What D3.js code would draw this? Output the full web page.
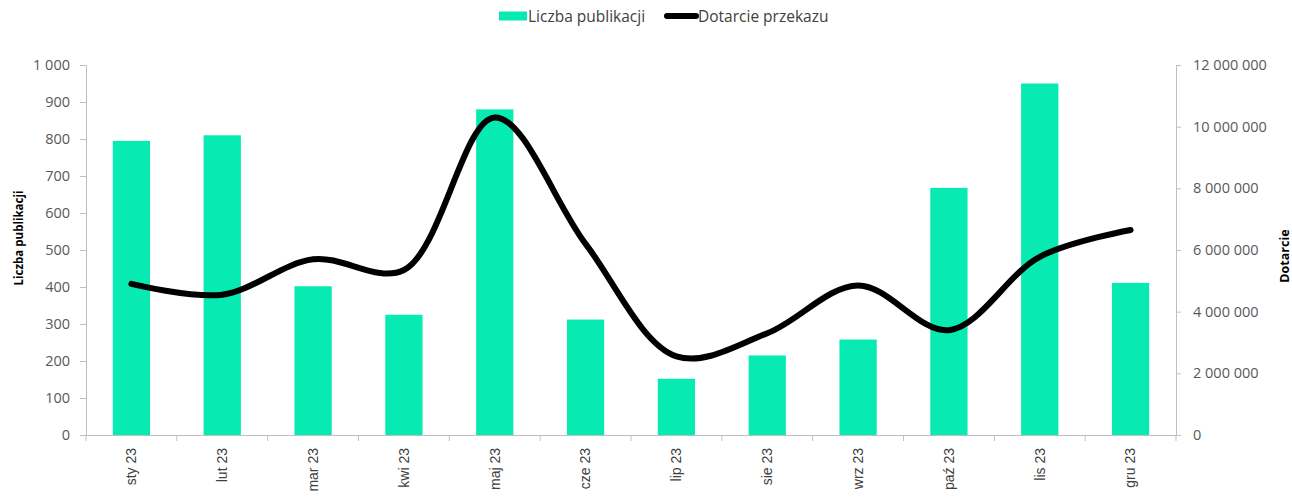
<!DOCTYPE html>
<html>
<head>
<meta charset="utf-8">
<script src="https://cdn.jsdelivr.net/npm/d3@7"></script>
<style>
body { margin: 0; background: #fff; }
svg text { font-family: "Open Sans", "Noto Sans", sans-serif; }
</style>
</head>
<body>
<svg id="chart" width="1292" height="497"></svg>
<script>
// data
var months = ["sty 23","lut 23","mar 23","kwi 23","maj 23","cze 23","lip 23","sie 23","wrz 23","paź 23","lis 23","gru 23"];
var publikacje = [795, 810, 402, 325, 880, 312, 152, 215, 258, 668, 950, 411];
var dotarcie = [4900000, 4550000, 5700000, 5350000, 10300000, 6200000, 2550000, 3300000, 4850000, 3400000, 5780000, 6650000];
var leftTicks = [0,100,200,300,400,500,600,700,800,900,1000];
var rightTicks = [0,2000000,4000000,6000000,8000000,10000000,12000000];

var svg = d3.select("#chart");
var m = {left: 86, right: 1176, top: 65, bottom: 435};

var x = d3.scaleBand().domain(months).range([m.left, m.right]).paddingInner(0.59).paddingOuter(0.295);
var xb = d3.scaleBand().domain(months).range([m.left, m.right]);
var yL = d3.scaleLinear().domain([0,1000]).range([m.bottom, m.top]);
var yR = d3.scaleLinear().domain([0,12000000]).range([m.bottom, m.top]);

function sp(v){ return d3.format(",")(v).replace(/,/g, " "); }

// bars
svg.append("g").selectAll("rect").data(publikacje).join("rect")
  .attr("x", function(d,i){ return x(months[i]); })
  .attr("y", function(d){ return yL(d); })
  .attr("width", x.bandwidth())
  .attr("height", function(d){ return yL(0) - yL(d); })
  .attr("fill", "#07eab1");

// left axis
var gl = svg.append("g").attr("transform", "translate(" + m.left + ",0)")
  .call(d3.axisLeft(yL).tickValues(leftTicks).tickSize(6).tickPadding(10).tickFormat(sp));
// right axis
var gr = svg.append("g").attr("transform", "translate(" + m.right + ",0)")
  .call(d3.axisRight(yR).tickValues(rightTicks).tickSize(5).tickPadding(12).tickFormat(sp));
// x axis
var gx = svg.append("g").attr("transform", "translate(0," + m.bottom + ")")
  .call(d3.axisBottom(xb).tickSize(0).tickPadding(12));
gx.selectAll(".tick text")
  .attr("transform", "rotate(-90)")
  .attr("text-anchor", "end")
  .attr("dy", "0.35em")
  .attr("x", -13).attr("y", 0)
  .style("font-family", "'Liberation Sans', Arial, sans-serif")
  .style("font-size", "14px")
  .attr("fill", "#404040");
// category boundary ticks
svg.append("g").selectAll("line").data(d3.range(months.length + 1)).join("line")
  .attr("x1", function(i){ return m.left + i * xb.step(); })
  .attr("x2", function(i){ return m.left + i * xb.step(); })
  .attr("y1", m.bottom).attr("y2", m.bottom + 6)
  .attr("stroke", "#bfbfbf");

[gl, gr, gx].forEach(function(g){
  g.select(".domain").attr("stroke", "#bfbfbf");
  g.selectAll(".tick line").attr("stroke", "#bfbfbf");
});
[gl, gr].forEach(function(g){
  g.selectAll(".tick text").style("font-size", "14.5px").attr("fill", "#595959");
});

// line
var line = d3.line()
  .x(function(d,i){ return xb(months[i]) + xb.bandwidth()/2; })
  .y(function(d){ return yR(d); })
  .curve(d3.curveCatmullRom.alpha(0.5));
svg.append("path").datum(dotarcie)
  .attr("d", line)
  .attr("fill", "none")
  .attr("stroke", "#000")
  .attr("stroke-width", 6)
  .attr("stroke-linecap", "round")
  .attr("stroke-linejoin", "round");

// axis titles
svg.append("text").attr("transform", "translate(23,238) rotate(-90)")
  .attr("text-anchor", "middle").style("font-size", "11.5px").style("font-weight", "bold")
  .attr("fill", "#000").text("Liczba publikacji");
svg.append("text").attr("transform", "translate(1289,256) rotate(-90)")
  .attr("text-anchor", "middle").style("font-size", "12.5px").style("font-weight", "bold")
  .attr("fill", "#000").text("Dotarcie");

// legend
var lg = svg.append("g");
lg.append("rect").attr("x", 499).attr("y", 11.5).attr("width", 28).attr("height", 9).attr("fill", "#07eab1");
lg.append("text").attr("x", 528).attr("y", 21.5).style("font-size", "15.5px").attr("fill", "#404040").text("Liczba publikacji");
lg.append("line").attr("x1", 667).attr("x2", 696).attr("y1", 16).attr("y2", 16)
  .attr("stroke", "#000").attr("stroke-width", 6).attr("stroke-linecap", "round");
lg.append("text").attr("x", 698).attr("y", 21.5).style("font-size", "15.5px").attr("fill", "#404040").text("Dotarcie przekazu");
</script>
</body>
</html>
